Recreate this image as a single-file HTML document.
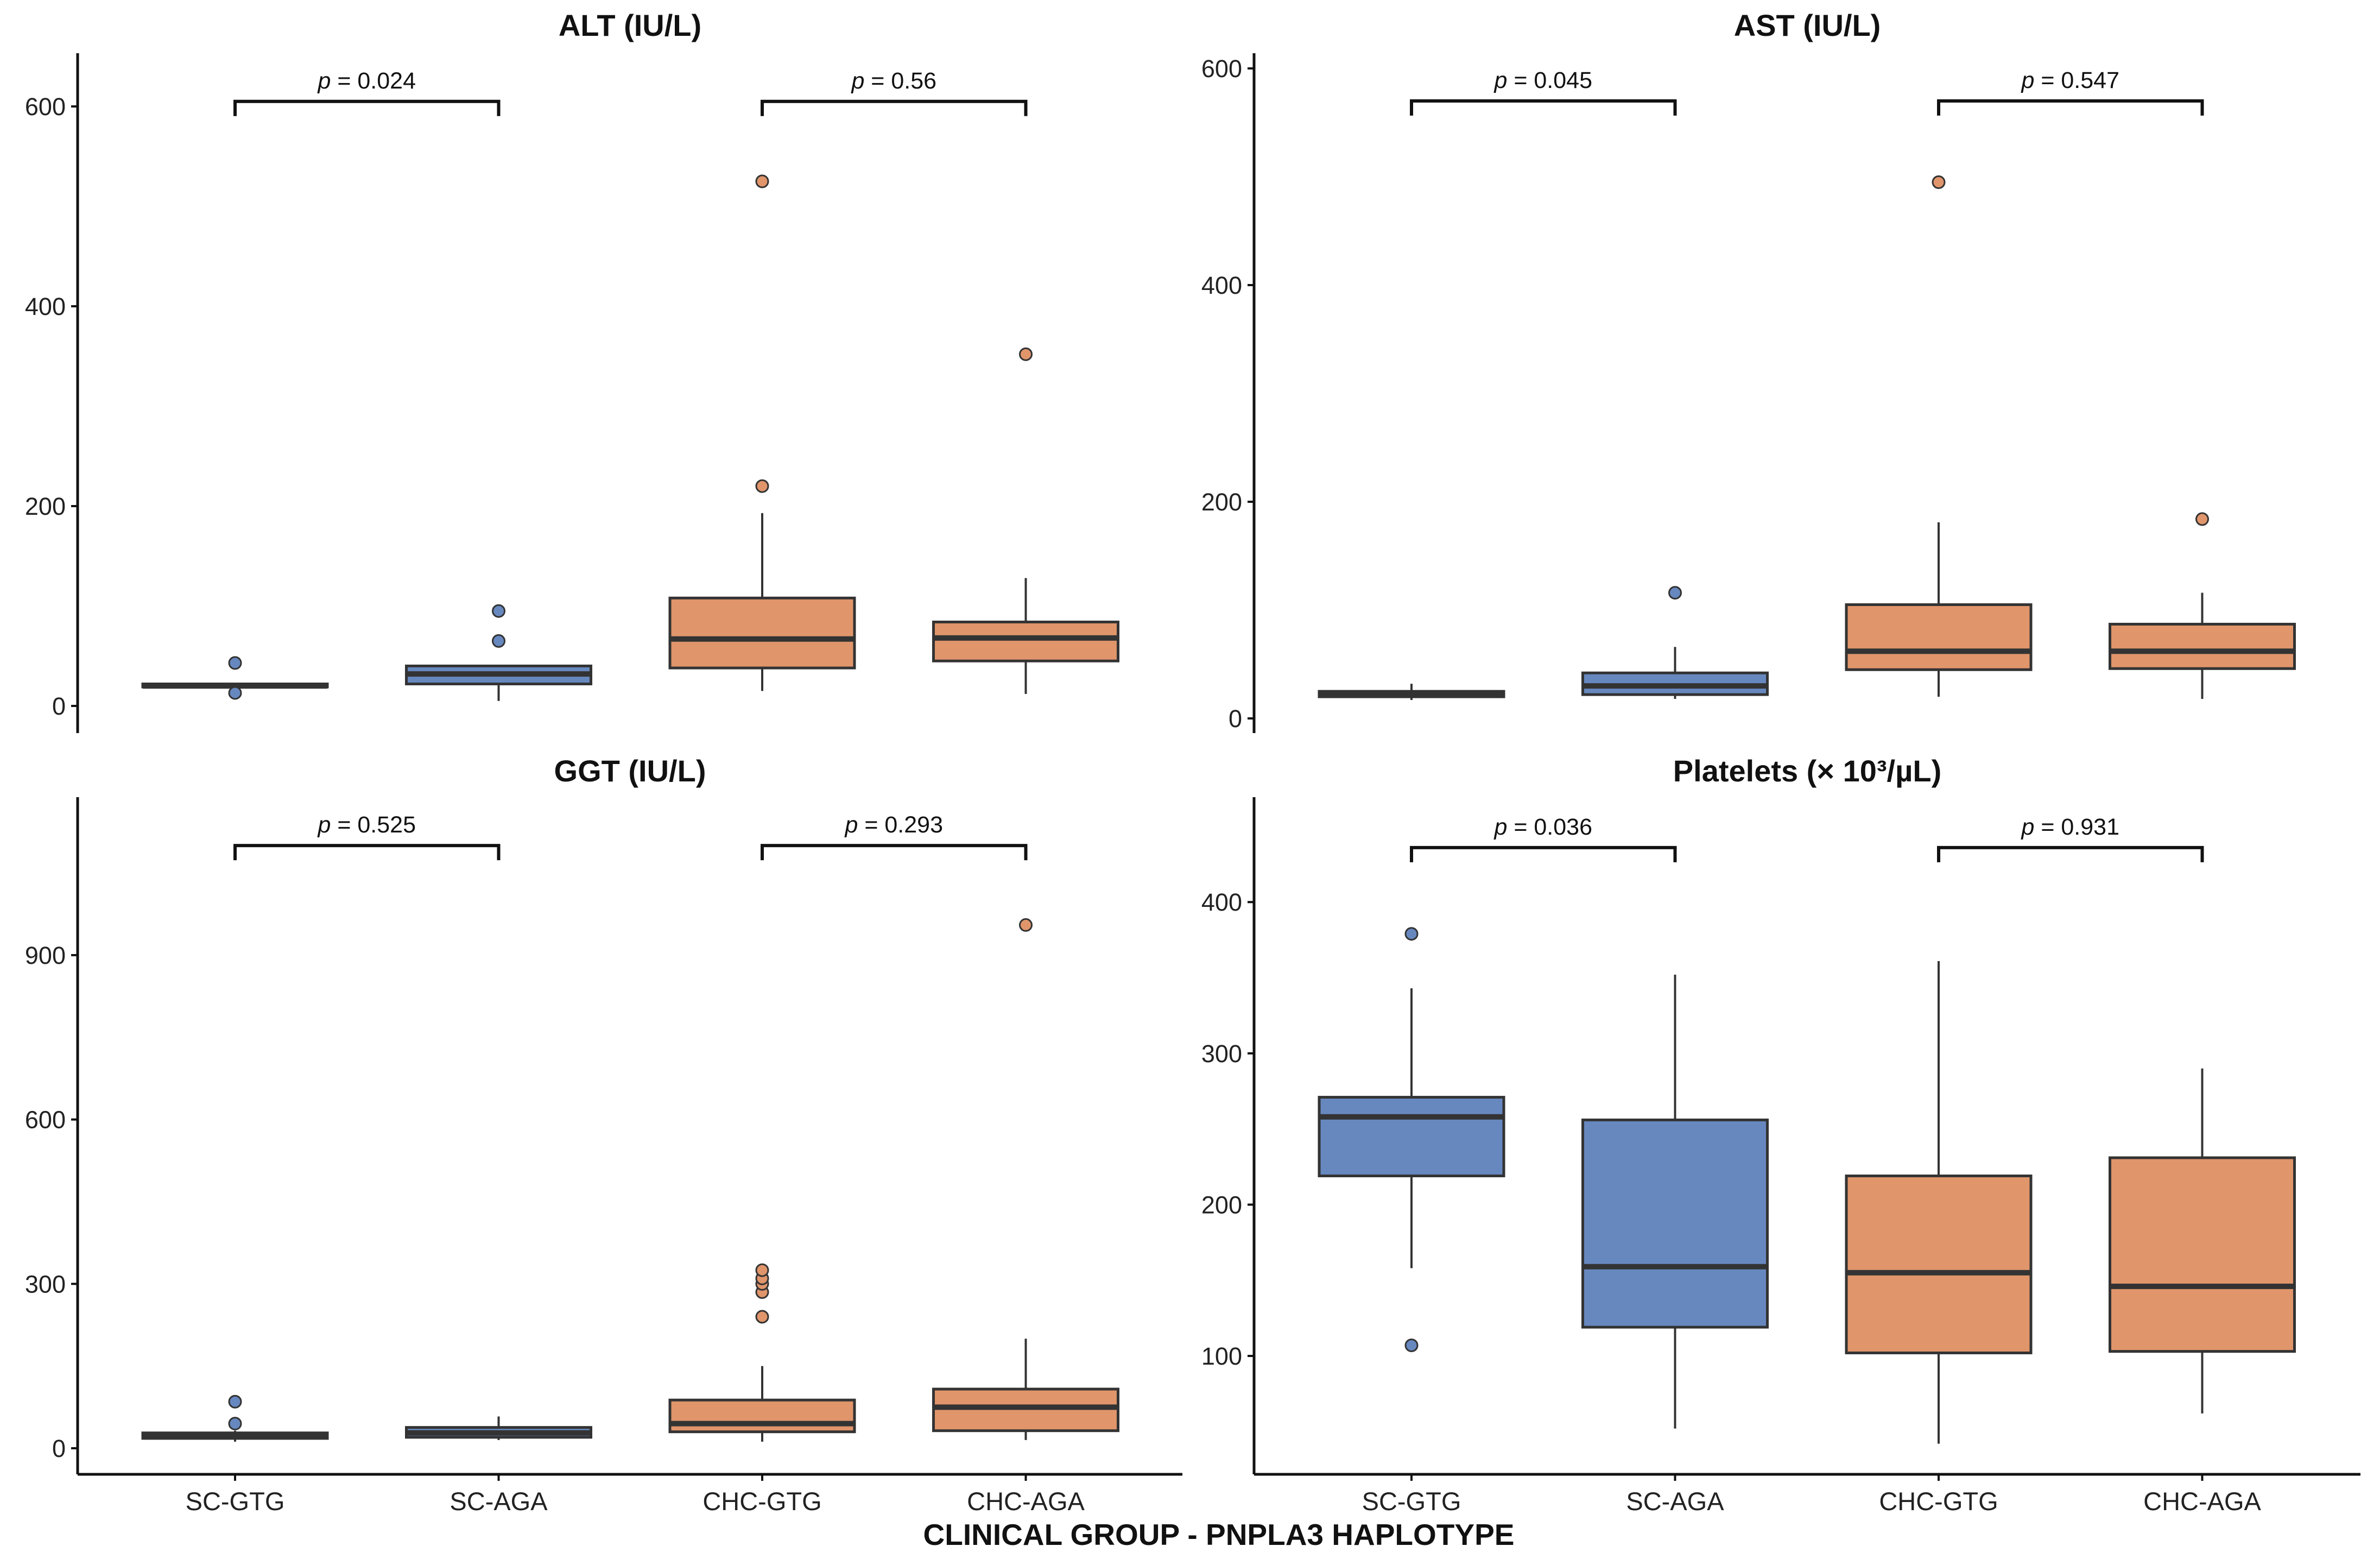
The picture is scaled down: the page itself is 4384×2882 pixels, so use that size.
<!DOCTYPE html>
<html><head><meta charset="utf-8">
<style>html,body{margin:0;padding:0;background:#fff}svg{display:block}</style>
</head><body>
<svg id="chart" xmlns="http://www.w3.org/2000/svg" width="4384" height="2882" viewBox="0 0 4384 2882" font-family="'Liberation Sans', sans-serif"></svg>
<script>
const categories = ["SC-GTG","SC-AGA","CHC-GTG","CHC-AGA"];
const panelTitles = ["ALT (IU/L)","AST (IU/L)","GGT (IU/L)","Platelets (× 10³/µL)"];
const pLeft = ["0.024","0.045","0.525","0.036"];
const pRight = ["0.56","0.547","0.293","0.931"];
const ticksALT = [0,200,400,600];
const ticksAST = [0,200,400,600];
const ticksGGT = [0,300,600,900];
const ticksPLT = [100,200,300,400];
// [whiskerLow, q1, median, q3, whiskerHigh]
const statsALT = [[18,19,20,22,23],[5,22,32,40,40],[15,38,67,108,193],[12,45,68,84,128]];
const statsAST = [[17,20,22,25,32],[18,22,30,42,66],[20,45,62,105,181],[18,46,62,87,116]];
const statsGGT = [[12,18,24,28,32],[15,20,28,38,58],[12,30,45,88,150],[15,32,75,108,200]];
const statsPLT = [[158,219,258,271,343],[52,119,159,256,352],[42,102,155,219,361],[62,103,146,231,290]];
const outALT = [[43,13],[65,95],[220,525],[352]];
const outAST = [[],[116],[495],[184]];
const outGGT = [[85,45],[],[240,285,300,310,325],[955]];
const outPLT = [[379,107],[],[],[]];
const bracketALT = 605, bracketAST = 570, bracketGGT = 1100, bracketPLT = 436;

const NS="http://www.w3.org/2000/svg";
const svg=document.getElementById('chart');
function mk(tag,attrs,parent){const e=document.createElementNS(NS,tag);for(const k in attrs)e.setAttribute(k,attrs[k]);(parent||svg).appendChild(e);return e;}
const colors=["#6788BF","#6788BF","#E0956B","#E0956B"];
const panels=[
 {ax:143,right:2178,top:98,bottom:1350,v0:0,y0:1300,ppu:1.84,ticks:ticksALT,stats:statsALT,outs:outALT,br:bracketALT,xaxis:false,titleY:66,name:'alt'},
 {ax:2310,right:4348,top:98,bottom:1350,v0:0,y0:1323,ppu:1.995,ticks:ticksAST,stats:statsAST,outs:outAST,br:bracketAST,xaxis:false,titleY:66,name:'ast'},
 {ax:143,right:2178,top:1468,bottom:2715,v0:0,y0:2667,ppu:1.009,ticks:ticksGGT,stats:statsGGT,outs:outGGT,br:bracketGGT,xaxis:true,titleY:1439,name:'ggt'},
 {ax:2310,right:4348,top:1468,bottom:2715,v0:100,y0:2497,ppu:2.786,ticks:ticksPLT,stats:statsPLT,outs:outPLT,br:bracketPLT,xaxis:true,titleY:1439,name:'platelets'}
];
panels.forEach((p,pi)=>{
 const g=mk('g',{});
 
 
 const y=v=>p.y0-(v-p.v0)*p.ppu;
 const xs=i=>p.ax+290+i*485.5;
 const t=mk('text',{x:(p.ax+p.right)/2,y:p.titleY,'text-anchor':'middle','font-size':56,'font-weight':'bold',fill:'#111'},g);
 t.textContent=panelTitles[pi];
 
 
 const ya=mk('line',{x1:p.ax,x2:p.ax,y1:p.top,y2:p.bottom,stroke:'#111','stroke-width':5},g);
 
 
 p.ticks.forEach(v=>{
  mk('line',{x1:p.ax-12,x2:p.ax,y1:y(v),y2:y(v),stroke:'#111','stroke-width':4},g);
  const tl=mk('text',{x:p.ax-22,y:y(v)+16,'text-anchor':'end','font-size':45,fill:'#222'},g);
  tl.textContent=v;
  
  
 });
 if(p.xaxis){
  const xa=mk('line',{x1:p.ax,x2:p.right,y1:p.bottom,y2:p.bottom,stroke:'#111','stroke-width':5},g);
  
  
  categories.forEach((c,i)=>{
   mk('line',{x1:xs(i),x2:xs(i),y1:p.bottom,y2:p.bottom+12,stroke:'#111','stroke-width':4},g);
   const xl=mk('text',{x:xs(i),y:p.bottom+66,'text-anchor':'middle','font-size':47,fill:'#222'},g);
   xl.textContent=c;
   
   
  });
 }
 p.stats.forEach((s,i)=>{
  const cx=xs(i), hw=170;
  const bg=mk('g',{},g);
  
  
  mk('line',{x1:cx,x2:cx,y1:y(s[0]),y2:y(s[1]),stroke:'#333','stroke-width':4},bg);
  mk('line',{x1:cx,x2:cx,y1:y(s[3]),y2:y(s[4]),stroke:'#333','stroke-width':4},bg);
  mk('rect',{x:cx-hw,y:y(s[3]),width:2*hw,height:Math.max(1,y(s[1])-y(s[3])),fill:colors[i],stroke:'#333','stroke-width':5},bg);
  mk('line',{x1:cx-hw,x2:cx+hw,y1:y(s[2]),y2:y(s[2]),stroke:'#333','stroke-width':10},bg);
  p.outs[i].forEach(v=>{
   const c=mk('circle',{cx:cx,cy:y(v),r:11,fill:colors[i],stroke:'#333','stroke-width':3},bg);
   
   
  });
 });
 [[0,1,pLeft[pi]],[2,3,pRight[pi]]].forEach(b=>{
  const by=y(p.br), x1=xs(b[0]), x2=xs(b[1]);
  const br=mk('path',{d:`M${x1},${by+27} L${x1},${by} L${x2},${by} L${x2},${by+27}`,fill:'none',stroke:'#111','stroke-width':6},g);
  
  
  const pt=mk('text',{x:(x1+x2)/2,y:by-24,'text-anchor':'middle','font-size':43,fill:'#111'},g);
  pt.innerHTML='<tspan font-style="italic">p</tspan> = '+b[2];
  
  
 });
});
const at=mk('text',{x:2245,y:2845,'text-anchor':'middle','font-size':55,'font-weight':'bold',fill:'#111'});
at.textContent='CLINICAL GROUP - PNPLA3 HAPLOTYPE';


</script>
</body></html>
